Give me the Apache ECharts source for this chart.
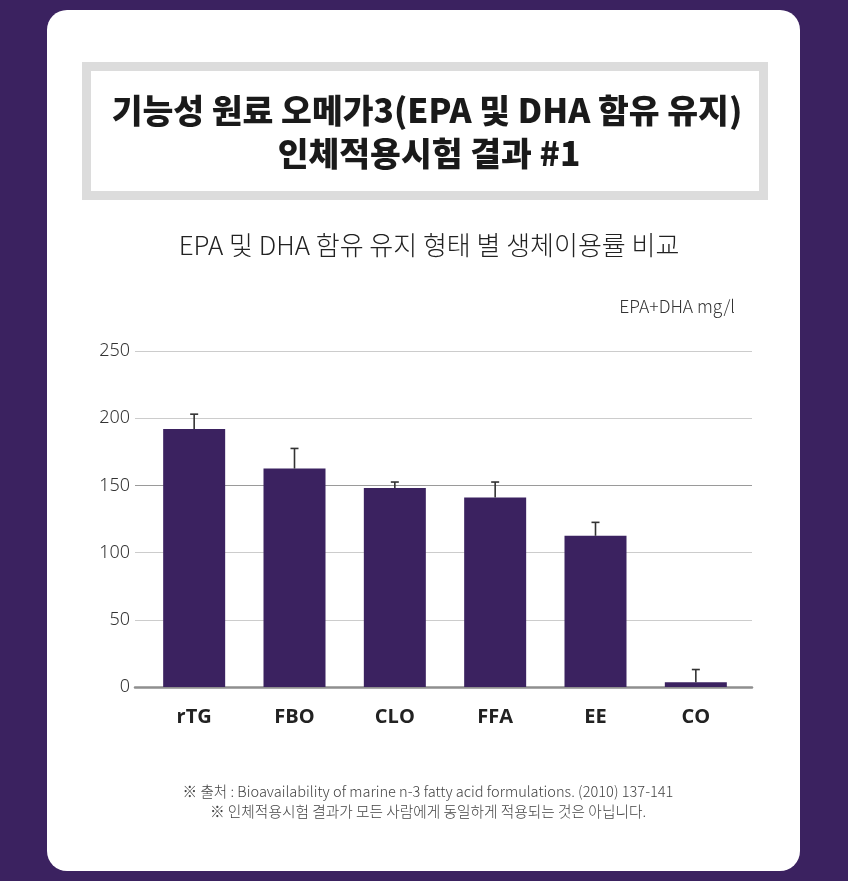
<!DOCTYPE html>
<html>
<head>
<meta charset="utf-8">
<script src="https://cdn.jsdelivr.net/npm/echarts@6/dist/echarts.min.js"></script>
<style>
html,body{margin:0;padding:0;background:#3b2260;}
#chart{width:848px;height:881px;}
</style>
</head>
<body>
<div id="chart"></div>
<script>
const categories = ['rTG', 'FBO', 'CLO', 'FFA', 'EE', 'CO'];
const meanValues = [192, 162.5, 148, 141, 112.5, 3.5];
const errorTop = [203, 177.5, 152.5, 152.5, 122.5, 13];
const yMin = 0, yMax = 250, yStep = 50;
const titleLine1 = '기능성 원료 오메가3(EPA 및 DHA 함유 유지)';
const titleLine2 = '인체적용시험 결과 #1';
const subTitle = 'EPA 및 DHA 함유 유지 형태 별 생체이용률 비교';
const unitText = 'EPA+DHA mg/l';
const note1 = '※ 출처 : Bioavailability of marine n-3 fatty acid formulations. (2010) 137-141';
const note2 = '※ 인체적용시험 결과가 모든 사람에게 동일하게 적용되는 것은 아닙니다.';

const chart = echarts.init(document.getElementById('chart'));
const purple = '#3b2260';
const gridTop = 351, gridBottom = 881 - 687;

chart.setOption({
  backgroundColor: purple,
  animation: false,
  graphic: [
    { type: 'rect', z: -10, silent: true, shape: { x: 47, y: 10, width: 753, height: 861, r: 20 }, style: { fill: '#ffffff' } },
    { type: 'rect', z: -9, silent: true, shape: { x: 86.5, y: 66.5, width: 677, height: 129 }, style: { fill: '#ffffff', stroke: '#dcdcdc', lineWidth: 9 } }
  ],
  title: [
    { text: titleLine1, left: 422, top: 89, textAlign: 'center',
      textStyle: { fontFamily: 'Noto Sans CJK KR', fontWeight: 900, fontSize: 33.5, color: '#1a1a1a' } },
    { text: titleLine2, left: 424, top: 132, textAlign: 'center',
      textStyle: { fontFamily: 'Noto Sans CJK KR', fontWeight: 900, fontSize: 33.5, color: '#1a1a1a' } },
    { text: subTitle, left: 424, top: 227, textAlign: 'center',
      textStyle: { fontFamily: 'Noto Sans CJK KR', fontWeight: 300, fontSize: 26, color: '#222222' } },
    { text: unitText, right: 108, top: 293,
      textStyle: { fontFamily: 'Noto Sans CJK KR', fontWeight: 300, fontSize: 17.5, color: '#333333' } },
    { text: note1, left: 423, top: 779, textAlign: 'center',
      textStyle: { fontFamily: 'Noto Sans CJK KR', fontWeight: 300, fontSize: 14.6, color: '#444444' } },
    { text: note2, left: 423, top: 799, textAlign: 'center',
      textStyle: { fontFamily: 'Noto Sans CJK KR', fontWeight: 300, fontSize: 14.7, color: '#444444' } }
  ],
  grid: [
    { left: 135, right: 96, top: gridTop, bottom: gridBottom },
    { left: 144, right: 102, top: gridTop, bottom: gridBottom }
  ],
  xAxis: [
    { type: 'category', gridIndex: 0, data: categories,
      axisLine: { show: true, lineStyle: { color: '#8f8f8f', width: 2.5 } },
      axisTick: { show: false }, axisLabel: { show: false }, splitLine: { show: false } },
    { type: 'category', gridIndex: 1, data: categories,
      axisLine: { show: false }, axisTick: { show: false },
      axisLabel: { show: true, margin: 20, fontFamily: 'Open Sans', fontWeight: 'bold', fontSize: 20, color: '#222222' } }
  ],
  yAxis: [
    { type: 'value', gridIndex: 0, min: yMin, max: yMax, interval: yStep,
      axisLine: { show: false }, axisTick: { show: false },
      axisLabel: { margin: 5, fontFamily: 'Noto Sans', fontWeight: 300, fontSize: 18, color: '#333333' },
      splitLine: { show: true, lineStyle: { width: 1.2, color: ['#999999', '#cccccc', '#cccccc', '#9a9a9a', '#cccccc', '#cccccc'] } } },
    { type: 'value', gridIndex: 1, min: yMin, max: yMax, interval: yStep,
      axisLine: { show: false }, axisTick: { show: false }, axisLabel: { show: false }, splitLine: { show: false } }
  ],
  series: [
    { type: 'bar', xAxisIndex: 1, yAxisIndex: 1, data: meanValues, barWidth: 62,
      itemStyle: { color: purple }, z: 3 },
    { type: 'custom', xAxisIndex: 1, yAxisIndex: 1, z: 4,
      data: categories.map((c, i) => [i, meanValues[i], errorTop[i]]),
      renderItem: function (params, api) {
        const p0 = api.coord([api.value(0), api.value(1)]);
        const p1 = api.coord([api.value(0), api.value(2)]);
        const half = 4;
        const st = { stroke: '#333333', lineWidth: 1.6 };
        return { type: 'group', children: [
          { type: 'line', shape: { x1: p0[0], y1: p0[1], x2: p1[0], y2: p1[1] }, style: st },
          { type: 'line', shape: { x1: p1[0] - half, y1: p1[1], x2: p1[0] + half, y2: p1[1] }, style: st }
        ] };
      }
    }
  ]
});
</script>
</body>
</html>
